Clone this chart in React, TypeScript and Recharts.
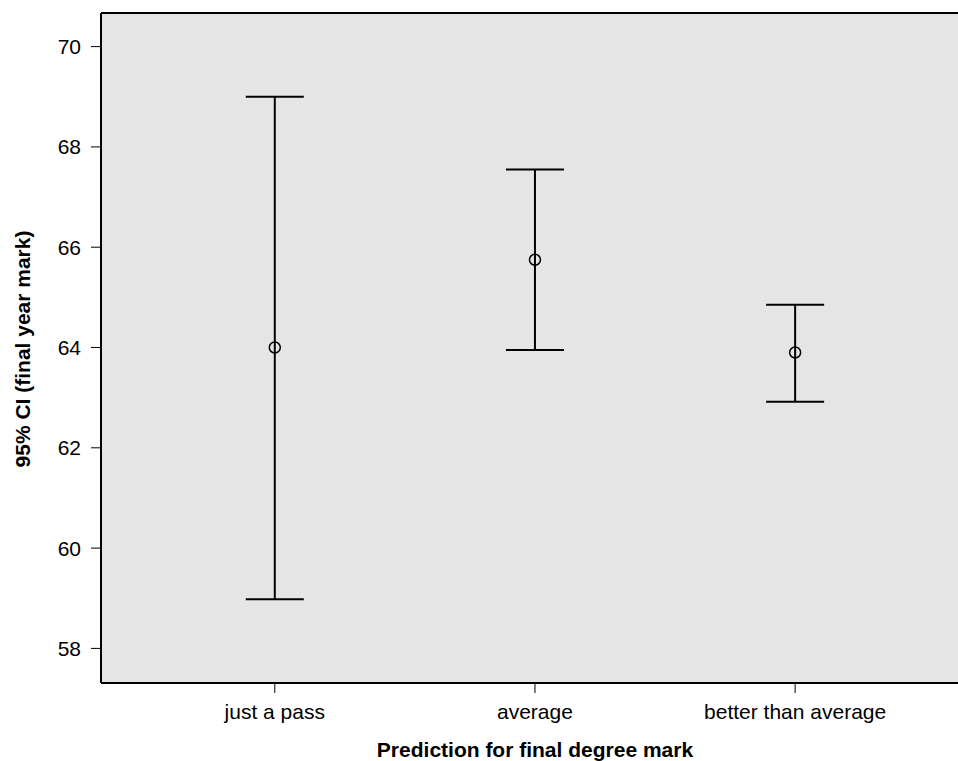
import React from 'react';
import { ScatterChart, Scatter, XAxis, YAxis, ErrorBar, ReferenceLine, CartesianGrid } from 'recharts';

const categories = ['just a pass', 'average', 'better than average'];
const means = [64.0, 65.75, 63.9];
const lowers = [58.98, 63.95, 62.92];
const uppers = [69.0, 67.55, 64.85];
const yTicks = [58, 60, 62, 64, 66, 68, 70];

const Y_MIN = 57.31;
const Y_MAX = 70.67;

const points = categories.map((name, i) => ({
  x: i + 1,
  name,
  mean: means[i],
  err: [means[i] - lowers[i], uppers[i] - means[i]],
}));

const FONT = '"Liberation Sans", Arial, Helvetica, sans-serif';

const Dot = (props: any) => {
  const { cx, cy } = props;
  return <circle cx={cx} cy={cy} r={5.5} fill="none" stroke="#000" strokeWidth={1.5} />;
};

export default function App() {
  return (
    <div style={{ position: 'absolute', left: 0, top: 0, width: 958, height: 761, background: '#fff', fontFamily: FONT }}>
      <ScatterChart width={958} height={761} margin={{ top: 13, right: 0, bottom: 0, left: 0 }}>
        <CartesianGrid horizontal={false} vertical={false} fill="#e5e5e5" />
        <XAxis
          type="number"
          dataKey="x"
          domain={[0.332, 3.626]}
          ticks={[1, 2, 3]}
          tickFormatter={(v: number) => categories[v - 1]}
          height={78}
          tickSize={10}
          tickMargin={11}
          stroke="#000"
          axisLine={{ stroke: '#000', strokeWidth: 2 }}
          tickLine={{ stroke: '#000', strokeWidth: 1 }}
          tick={{ fill: '#000', fontSize: 21, fontFamily: FONT }}
          allowDataOverflow
          label={{
            content: (p: any) => {
              const vb = p.viewBox;
              return (
                <text x={535} y={vb.y + 74} textAnchor="middle" fontSize={21} fontWeight="bold" fill="#000" fontFamily={FONT}>
                  Prediction for final degree mark
                </text>
              );
            },
          }}
        />
        <YAxis
          type="number"
          dataKey="mean"
          domain={[Y_MIN, Y_MAX]}
          ticks={yTicks}
          width={101}
          tickSize={10}
          tickMargin={10}
          stroke="#000"
          axisLine={{ stroke: '#000', strokeWidth: 2 }}
          tickLine={{ stroke: '#000', strokeWidth: 1 }}
          tick={{ fill: '#000', fontSize: 21, fontFamily: FONT }}
          allowDataOverflow
          label={{
            content: (p: any) => {
              const vb = p.viewBox;
              const cx = 22;
              const cy = vb.y + vb.height / 2 + 1;
              return (
                <text
                  x={cx}
                  y={cy}
                  transform={`rotate(-90 ${cx} ${cy})`}
                  textAnchor="middle"
                  dominantBaseline="central"
                  fontSize={21}
                  fontWeight="bold"
                  fill="#000"
                  fontFamily={FONT}
                >
                  95% CI (final year mark)
                </text>
              );
            },
          }}
        />
        <ReferenceLine y={Y_MAX} stroke="#000" strokeWidth={2} ifOverflow="visible" />
        <Scatter data={points} shape={Dot} isAnimationActive={false}>
          <ErrorBar dataKey="err" direction="y" width={29} stroke="#000" strokeWidth={2} isAnimationActive={false} />
        </Scatter>
      </ScatterChart>
    </div>
  );
}
